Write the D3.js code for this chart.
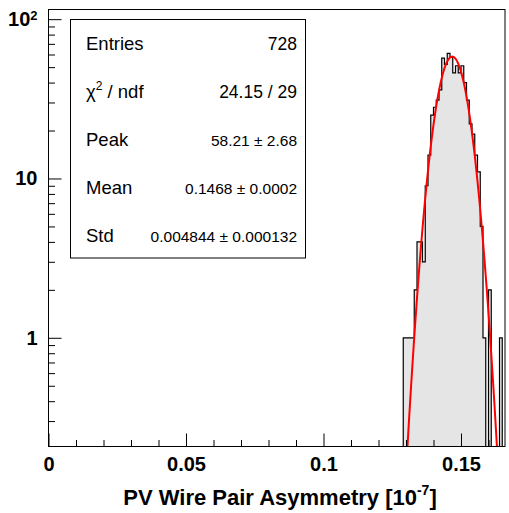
<!DOCTYPE html>
<html><head><meta charset="utf-8">
<script src="https://cdn.jsdelivr.net/npm/d3@7"></script>
<style>body{margin:0;background:#fff;} svg{display:block;}</style>
</head><body><svg id="c" width="509" height="513"></svg>
<script>
// ---- data ----
const binLowEdges = [0.129,0.130,0.131,0.132,0.133,0.134,0.135,0.136,0.137,0.138,0.139,0.140,
  0.141,0.142,0.143,0.144,0.145,0.146,0.147,0.148,0.149,0.150,0.151,0.152,0.153,0.154,0.155,
  0.156,0.157,0.158,0.159,0.160,0.161,0.162,0.163,0.164];
const binWidth = 0.001;
const counts = [1,1,1,1,2,4,4,3,9,14,25,28,31,36,57,52,61,58,46,51,46,51,40,31,22,19,14,11,5,1,0,2,0,0,0,1];
const fitPeak = 58.21, fitMean = 0.1468, fitStd = 0.004844;
const xTickValues = [0, 0.05, 0.1, 0.15];
const xTickLabels = ["0", "0.05", "0.1", "0.15"];
const xMinorTicks = [0.01,0.02,0.03,0.04,0.06,0.07,0.08,0.09,0.11,0.12,0.13,0.14,0.16];
const yTickValues = [1, 10, 100];
const yTickLabels = ["1", "10", "10"];
const yTickSup = ["", "", "2"];
const yMinorTicks = [0.3,0.4,0.5,0.6,0.7,0.8,0.9,2,3,4,5,6,7,8,9,20,30,40,50,60,70,80,90];
const statsLabels = ["Entries", "χ", "Peak", "Mean", "Std"];
const statsValues = ["728", "24.15 / 29", "58.21 ± 2.68", "0.1468 ± 0.0002", "0.004844 ± 0.000132"];
const xTitle = "PV Wire Pair Asymmetry [10";
const xTitleSup = "-7";

// ---- layout ----
const W = 509, H = 513;
const L = 48.5, R = 505, T = 9.5, B = 446.5;
const FONT = "'Liberation Sans', Arial, Helvetica, sans-serif";
const x = d3.scaleLinear().domain([0, 0.166]).range([L, R]);
const y = d3.scaleLog().domain([0.2078, 115]).range([B, T]);

const svg = d3.select("#c");
svg.append("rect").attr("width", W).attr("height", H).attr("fill", "#fff");
svg.append("defs").append("clipPath").attr("id", "clip")
  .append("rect").attr("x", L).attr("y", T).attr("width", R - L).attr("height", B - T);

const plot = svg.append("g").attr("clip-path", "url(#clip)");
const yv = v => v > 0 ? y(v) : B;

// histogram outline points
const pts = [[x(binLowEdges[0]), B]];
binLowEdges.forEach((e, i) => {
  pts.push([x(e), yv(counts[i])]);
  pts.push([x(e + binWidth), yv(counts[i])]);
});
pts.push([x(binLowEdges[binLowEdges.length - 1] + binWidth), B]);
const lineGen = d3.line();
plot.append("path").attr("d", lineGen(pts) + "Z").attr("fill", "#e5e5e5").attr("stroke", "none");
plot.append("path").attr("d", lineGen(pts)).attr("fill", "none").attr("stroke", "#000").attr("stroke-width", 1.2);

// fit curve
const fx = d3.range(0.125, 0.17, 0.0002);
const gauss = v => fitPeak * Math.exp(-0.5 * Math.pow((v - fitMean) / fitStd, 2));
plot.append("path")
  .attr("d", d3.line().x(d => x(d)).y(d => y(Math.max(gauss(d), 0.01)))(fx))
  .attr("fill", "none").attr("stroke", "#ff0000").attr("stroke-width", 2);

// axes
const xAxisG = svg.append("g").attr("transform", `translate(0,${B})`)
  .call(d3.axisBottom(x).tickValues(xTickValues).tickSize(-13).tickPadding(10)
    .tickFormat((d, i) => xTickLabels[i]));
const xMinorG = svg.append("g").attr("transform", `translate(0,${B})`)
  .call(d3.axisBottom(x).tickValues(xMinorTicks).tickSize(-6.5).tickFormat(""));
const yAxisG = svg.append("g").attr("transform", `translate(${L},0)`)
  .call(d3.axisLeft(y).tickValues(yTickValues).tickSize(-13).tickPadding(11)
    .tickFormat((d, i) => yTickLabels[i]));
const yMinorG = svg.append("g").attr("transform", `translate(${L},0)`)
  .call(d3.axisLeft(y).tickValues(yMinorTicks).tickSize(-6.5).tickFormat(""));
[xAxisG, xMinorG, yAxisG, yMinorG].forEach(g => {
  g.select(".domain").remove();
  g.selectAll(".tick line").attr("stroke", "#000").attr("stroke-width", 1);
  g.selectAll("text").attr("font-family", FONT).attr("font-weight", "bold")
    .attr("font-size", 20).attr("fill", "#000");
});
yAxisG.selectAll(".tick text").each(function(d, i) {
  if (yTickSup[i]) {
    d3.select(this).append("tspan").attr("font-size", 13).attr("dy", "-0.5em").text(yTickSup[i]);
  }
});

// frame
svg.append("rect").attr("x", L).attr("y", T).attr("width", R - L).attr("height", B - T)
  .attr("fill", "none").attr("stroke", "#000").attr("stroke-width", 1);

// x title
const xt = svg.append("text").attr("x", 280).attr("y", 505).attr("text-anchor", "middle")
  .attr("font-family", FONT).attr("font-weight", "bold").attr("font-size", 22).attr("fill", "#000");
xt.append("tspan").text(xTitle);
xt.append("tspan").attr("font-size", 14).attr("dy", -10).text(xTitleSup);
xt.append("tspan").attr("dy", 10).text("]");

// stats box
svg.append("rect").attr("x", 70.5).attr("y", 19.5).attr("width", 235).attr("height", 238.5)
  .attr("fill", "#fff").attr("stroke", "#000").attr("stroke-width", 1);
const rowBase = [50, 98, 146, 194, 242];
statsLabels.forEach((lab, i) => {
  const t = svg.append("text").attr("x", 86).attr("y", rowBase[i])
    .attr("font-family", FONT).attr("font-size", 18.5).attr("fill", "#000");
  t.append("tspan").text(lab);
  if (i === 1) {
    t.append("tspan").attr("font-size", 12).attr("dy", -8).text("2");
    t.append("tspan").attr("dy", 8).text(" / ndf");
  }
  svg.append("text").attr("x", 297).attr("y", rowBase[i]).attr("text-anchor", "end")
    .attr("font-family", FONT).attr("font-size", i < 2 ? 17.5 : 15.5).attr("fill", "#000").text(statsValues[i]);
});
</script></body></html>
